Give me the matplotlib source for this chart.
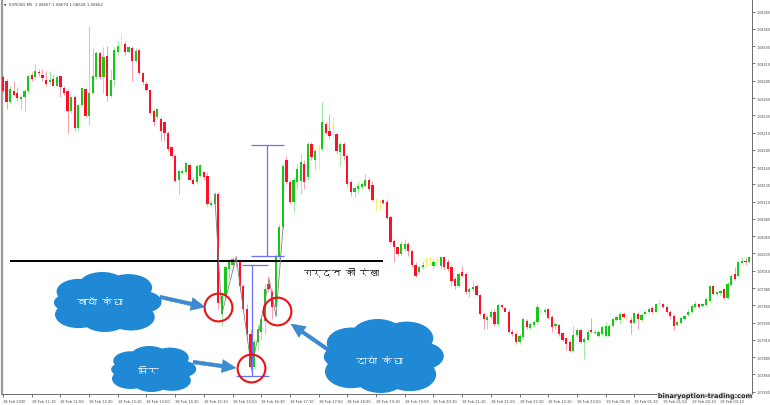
import numpy as np
import matplotlib
matplotlib.use("Agg")
import matplotlib.pyplot as plt
from matplotlib import font_manager, patheffects
from matplotlib.ft2font import FT2Font
from matplotlib.patches import Ellipse, FancyArrow

# EURUSD M5, 18-19 Feb 2020
opens = [
    1.08290, 1.08284, 1.08254, 1.08270, 1.08268, 1.08258, 1.08261, 1.08270, 1.08293, 1.08290,
    1.08297, 1.08294, 1.08286, 1.08283, 1.08287, 1.08278, 1.08292, 1.08274, 1.08270, 1.08241,
    1.08261, 1.08216, 1.08250, 1.08273, 1.08234, 1.08267, 1.08290, 1.08325, 1.08290, 1.08321,
    1.08263, 1.08286, 1.08326, 1.08339, 1.08338, 1.08326, 1.08332, 1.08313, 1.08329, 1.08296,
    1.08280, 1.08271, 1.08241, 1.08232, 1.08229, 1.08225, 1.08210, 1.08189, 1.08176, 1.08141,
    1.08151, 1.08153, 1.08163, 1.08142, 1.08138, 1.08147, 1.08153, 1.08147, 1.08105, 1.08106,
    1.08121, 1.07947, 1.07973, 1.08012, 1.08018, 1.08027, 1.08022, 1.07988, 1.07954, 1.07918,
    1.07871, 1.07907, 1.07921, 1.07937, 1.07991, 1.07979, 1.07957, 1.08031, 1.08073, 1.08171,
    1.08138, 1.08109, 1.08138, 1.08140, 1.08164, 1.08146, 1.08193, 1.08171, 1.08186, 1.08186,
    1.08222, 1.08212, 1.08218, 1.08208, 1.08182, 1.08193, 1.08176, 1.08138, 1.08124, 1.08128,
    1.08131, 1.08132, 1.08142, 1.08134, 1.08112, 1.08109, 1.08112, 1.08109, 1.08088, 1.08053,
    1.08044, 1.08034, 1.08041, 1.08048, 1.08038, 1.08019, 1.08008, 1.08015, 1.08024, 1.08027,
    1.08017, 1.08024, 1.08017, 1.08030, 1.08022, 1.08015, 1.07998, 1.07988, 1.08008, 1.08005,
    1.07979, 1.07983, 1.07988, 1.07975, 1.07948, 1.07938, 1.07943, 1.07951, 1.07933, 1.07960,
    1.07956, 1.07951, 1.07922, 1.07918, 1.07907, 1.07914, 1.07937, 1.07927, 1.07931, 1.07936,
    1.07951, 1.07950, 1.07954, 1.07943, 1.07930, 1.07931, 1.07920, 1.07912, 1.07907, 1.07894,
    1.07917, 1.07924, 1.07907, 1.07910, 1.07924, 1.07920, 1.07915, 1.07918, 1.07915, 1.07915,
    1.07930, 1.07939, 1.07939, 1.07947, 1.07940, 1.07938, 1.07935, 1.07947, 1.07939, 1.07947,
    1.07950, 1.07956, 1.07951, 1.07962, 1.07962, 1.07957, 1.07950, 1.07944, 1.07931, 1.07934,
    1.07940, 1.07946, 1.07950, 1.07957, 1.07962, 1.07959, 1.07960, 1.07966, 1.07988, 1.07976,
    1.07978, 1.07983, 1.07970, 1.07989, 1.08005, 1.08002, 1.08021, 1.08024, 1.08022,
]
highs = [
    1.08294, 1.08287, 1.08277, 1.08284, 1.08276, 1.08265, 1.08273, 1.08293, 1.08297, 1.08309,
    1.08302, 1.08302, 1.08299, 1.08299, 1.08294, 1.08292, 1.08294, 1.08277, 1.08273, 1.08263,
    1.08264, 1.08251, 1.08276, 1.08274, 1.08364, 1.08332, 1.08328, 1.08328, 1.08334, 1.08335,
    1.08302, 1.08334, 1.08342, 1.08354, 1.08342, 1.08335, 1.08335, 1.08332, 1.08331, 1.08297,
    1.08284, 1.08273, 1.08244, 1.08246, 1.08232, 1.08227, 1.08212, 1.08190, 1.08179, 1.08157,
    1.08157, 1.08167, 1.08164, 1.08145, 1.08164, 1.08164, 1.08154, 1.08153, 1.08111, 1.08124,
    1.08124, 1.07979, 1.08019, 1.08027, 1.08030, 1.08031, 1.08027, 1.07991, 1.07962, 1.07925,
    1.07911, 1.07933, 1.07943, 1.07991, 1.08002, 1.07983, 1.08034, 1.08078, 1.08164, 1.08176,
    1.08142, 1.08145, 1.08164, 1.08179, 1.08171, 1.08196, 1.08196, 1.08186, 1.08193, 1.08254,
    1.08226, 1.08237, 1.08232, 1.08210, 1.08196, 1.08196, 1.08179, 1.08142, 1.08132, 1.08138,
    1.08138, 1.08150, 1.08145, 1.08140, 1.08115, 1.08114, 1.08114, 1.08114, 1.08090, 1.08056,
    1.08045, 1.08053, 1.08056, 1.08051, 1.08041, 1.08022, 1.08018, 1.08024, 1.08030, 1.08030,
    1.08027, 1.08030, 1.08032, 1.08032, 1.08027, 1.08019, 1.08001, 1.08008, 1.08017, 1.08008,
    1.07986, 1.07995, 1.07991, 1.07976, 1.07951, 1.07946, 1.07954, 1.07954, 1.07964, 1.07962,
    1.07957, 1.07954, 1.07925, 1.07921, 1.07918, 1.07943, 1.07940, 1.07936, 1.07938, 1.07962,
    1.07954, 1.07956, 1.07956, 1.07946, 1.07936, 1.07933, 1.07922, 1.07914, 1.07910, 1.07930,
    1.07928, 1.07927, 1.07914, 1.07925, 1.07941, 1.07925, 1.07924, 1.07931, 1.07936, 1.07933,
    1.07943, 1.07946, 1.07950, 1.07950, 1.07943, 1.07943, 1.07951, 1.07950, 1.07949, 1.07953,
    1.07957, 1.07959, 1.07964, 1.07969, 1.07963, 1.07960, 1.07953, 1.07947, 1.07937, 1.07943,
    1.07946, 1.07954, 1.07962, 1.07966, 1.07963, 1.07963, 1.07972, 1.07989, 1.07989, 1.07980,
    1.07982, 1.07985, 1.07994, 1.08005, 1.08015, 1.08024, 1.08030, 1.08030, 1.08031,
]
lows = [
    1.08268, 1.08244, 1.08251, 1.08263, 1.08255, 1.08244, 1.08241, 1.08268, 1.08284, 1.08287,
    1.08292, 1.08284, 1.08277, 1.08280, 1.08277, 1.08277, 1.08261, 1.08265, 1.08210, 1.08239,
    1.08213, 1.08213, 1.08248, 1.08232, 1.08221, 1.08266, 1.08287, 1.08287, 1.08268, 1.08255,
    1.08261, 1.08277, 1.08323, 1.08336, 1.08323, 1.08325, 1.08284, 1.08312, 1.08294, 1.08281,
    1.08270, 1.08237, 1.08219, 1.08229, 1.08198, 1.08198, 1.08183, 1.08174, 1.08138, 1.08121,
    1.08150, 1.08150, 1.08141, 1.08134, 1.08135, 1.08145, 1.08142, 1.08103, 1.08102, 1.08103,
    1.07954, 1.07930, 1.07969, 1.07998, 1.08012, 1.08015, 1.07979, 1.07951, 1.07911, 1.07865,
    1.07868, 1.07896, 1.07911, 1.07918, 1.07979, 1.07940, 1.07944, 1.08027, 1.08070, 1.08135,
    1.08106, 1.08095, 1.08128, 1.08121, 1.08128, 1.08142, 1.08171, 1.08157, 1.08157, 1.08183,
    1.08208, 1.08200, 1.08200, 1.08179, 1.08161, 1.08171, 1.08131, 1.08118, 1.08117, 1.08121,
    1.08128, 1.08131, 1.08125, 1.08111, 1.08096, 1.08099, 1.08106, 1.08085, 1.08050, 1.08023,
    1.08031, 1.08031, 1.08038, 1.08031, 1.08016, 1.08001, 1.08005, 1.08012, 1.08015, 1.08018,
    1.08012, 1.08015, 1.08012, 1.08012, 1.08009, 1.07988, 1.07983, 1.07986, 1.08001, 1.07976,
    1.07972, 1.07980, 1.07973, 1.07946, 1.07925, 1.07925, 1.07940, 1.07930, 1.07930, 1.07954,
    1.07950, 1.07920, 1.07915, 1.07904, 1.07904, 1.07911, 1.07925, 1.07924, 1.07928, 1.07933,
    1.07947, 1.07947, 1.07940, 1.07922, 1.07925, 1.07915, 1.07908, 1.07895, 1.07892, 1.07892,
    1.07914, 1.07905, 1.07882, 1.07908, 1.07920, 1.07918, 1.07914, 1.07915, 1.07914, 1.07914,
    1.07928, 1.07937, 1.07933, 1.07941, 1.07936, 1.07918, 1.07934, 1.07925, 1.07937, 1.07946,
    1.07949, 1.07949, 1.07950, 1.07959, 1.07956, 1.07949, 1.07940, 1.07924, 1.07930, 1.07933,
    1.07938, 1.07944, 1.07949, 1.07956, 1.07956, 1.07957, 1.07959, 1.07965, 1.07975, 1.07973,
    1.07975, 1.07969, 1.07969, 1.07988, 1.07996, 1.08001, 1.08020, 1.08018, 1.08021,
]
closes = [
    1.08270, 1.08254, 1.08273, 1.08265, 1.08260, 1.08261, 1.08270, 1.08292, 1.08287, 1.08299,
    1.08296, 1.08289, 1.08281, 1.08286, 1.08278, 1.08290, 1.08276, 1.08268, 1.08241, 1.08261,
    1.08216, 1.08250, 1.08274, 1.08234, 1.08268, 1.08292, 1.08325, 1.08290, 1.08319, 1.08263,
    1.08286, 1.08329, 1.08335, 1.08339, 1.08326, 1.08334, 1.08313, 1.08328, 1.08296, 1.08283,
    1.08271, 1.08239, 1.08226, 1.08244, 1.08212, 1.08209, 1.08186, 1.08176, 1.08140, 1.08154,
    1.08154, 1.08166, 1.08142, 1.08135, 1.08161, 1.08163, 1.08145, 1.08106, 1.08108, 1.08121,
    1.07964, 1.07973, 1.08015, 1.08024, 1.08027, 1.08022, 1.07988, 1.07954, 1.07918, 1.07871,
    1.07907, 1.07925, 1.07940, 1.07983, 1.07983, 1.07957, 1.08031, 1.08073, 1.08161, 1.08138,
    1.08109, 1.08142, 1.08157, 1.08167, 1.08138, 1.08193, 1.08174, 1.08183, 1.08186, 1.08225,
    1.08210, 1.08205, 1.08218, 1.08183, 1.08193, 1.08176, 1.08135, 1.08124, 1.08130, 1.08132,
    1.08135, 1.08142, 1.08128, 1.08112, 1.08112, 1.08109, 1.08108, 1.08086, 1.08051, 1.08044,
    1.08034, 1.08048, 1.08048, 1.08038, 1.08019, 1.08002, 1.08015, 1.08019, 1.08024, 1.08027,
    1.08022, 1.08024, 1.08030, 1.08015, 1.08012, 1.07995, 1.07988, 1.08005, 1.08002, 1.07979,
    1.07983, 1.07986, 1.07975, 1.07947, 1.07940, 1.07943, 1.07951, 1.07933, 1.07960, 1.07957,
    1.07951, 1.07921, 1.07918, 1.07907, 1.07915, 1.07940, 1.07928, 1.07933, 1.07936, 1.07957,
    1.07951, 1.07953, 1.07941, 1.07928, 1.07933, 1.07918, 1.07910, 1.07904, 1.07894, 1.07917,
    1.07924, 1.07907, 1.07911, 1.07922, 1.07921, 1.07922, 1.07921, 1.07928, 1.07930, 1.07930,
    1.07940, 1.07943, 1.07947, 1.07943, 1.07940, 1.07935, 1.07949, 1.07940, 1.07946, 1.07950,
    1.07954, 1.07950, 1.07962, 1.07962, 1.07957, 1.07951, 1.07944, 1.07930, 1.07936, 1.07941,
    1.07944, 1.07951, 1.07959, 1.07962, 1.07957, 1.07962, 1.07969, 1.07988, 1.07976, 1.07979,
    1.07980, 1.07970, 1.07991, 1.08002, 1.07998, 1.08022, 1.08024, 1.08022, 1.08030,
]

price_ticks = [
    1.08385, 1.08360, 1.08335, 1.08310, 1.08285, 1.08260, 1.08235, 1.08210, 1.08185, 1.08160,
    1.08135, 1.08110, 1.08085, 1.08060, 1.08035, 1.08010, 1.07985, 1.07960, 1.07935, 1.07910,
    1.07885, 1.07860, 1.07835,
]
time_tick_bars = [0, 8, 16, 24, 32, 40, 48, 56, 64, 72, 80, 88, 96, 104, 112, 120, 128,
                  136, 144, 152, 160, 168, 176, 184, 192, 200]
time_labels = [
    "18 Feb 2020", "18 Feb 11:10", "18 Feb 11:50", "18 Feb 12:30", "18 Feb 13:10",
    "18 Feb 13:50", "18 Feb 14:30", "18 Feb 15:10", "18 Feb 15:50", "18 Feb 16:30",
    "18 Feb 17:10", "18 Feb 17:50", "18 Feb 18:30", "18 Feb 19:10", "18 Feb 19:50",
    "18 Feb 20:30", "18 Feb 21:10", "18 Feb 21:50", "18 Feb 22:30", "18 Feb 23:10",
    "18 Feb 23:50", "19 Feb 00:30", "19 Feb 01:10", "19 Feb 01:50", "19 Feb 02:30",
    "19 Feb 03:10",
]

# head & shoulders markup
neckline = 1.08024
neck_bars = [2, 106]
pattern_bars = [60, 69.2, 76.4]          # left shoulder, head, right shoulder
pattern_prices = [1.07957, 1.07869, 1.07952]
zigzag_bars = [59, 61, 65, 69.3, 74.2, 76.1, 78.1]
zigzag_prices = [1.08121, 1.07947, 1.08030, 1.07868, 1.07998, 1.07944, 1.08075]
depth_bar, depth_top, depth_bottom = 69.4, 1.08019, 1.07858
target_bar, target_top, target_bottom = 73.7, 1.08192, 1.08031

header = "EURUSD,M5  1.08667 1.08674 1.08628 1.08662"
neck_label = "गर्दन की रेखा"
cloud_labels = ["बायाँ कंधा", "सिर", "दायां कंधा"]


def _devanagari_family() -> str:
    for entry in font_manager.fontManager.ttflist:
        try:
            cmap = FT2Font(entry.fname).get_charmap()
        except Exception:
            continue
        if 0x0917 in cmap and 0x0930 in cmap:
            return entry.name
    return "DejaVu Sans"


HINDI = [_devanagari_family(), "DejaVu Sans"]

W, H = 770, 406
fig = plt.figure(figsize=(W / 100, H / 100), dpi=100)
fig.patch.set_facecolor("white")

# main chart area: x 2..752 px, y 1..395 px
ax = fig.add_axes([2 / W, (H - 395) / H, 750 / W, 394 / H])
ax.set_facecolor("white")

o = np.array(opens)
h = np.array(highs)
l = np.array(lows)
c = np.array(closes)
x = np.arange(len(c))

body_col = np.where(c > o, "#16c916", np.where(c < o, "#ff1028", "#f2f23a"))
wick_col = np.where(c > o, "#9fe89f", np.where(c < o, "#f5a3b2", "#f0ee7a"))
body_bottom = np.minimum(o, c)
body_height = np.maximum(np.abs(c - o), 1.3e-5)

ax.vlines(x, l, h, colors=wick_col, linewidth=0.75, zorder=2)
ax.bar(x, body_height, bottom=body_bottom, width=0.62, color=body_col,
       linewidth=0, zorder=3)

ax.set_xlim(-0.28, 208.8)
ax.set_ylim(1.078316, 1.084019)

# neckline
ax.hlines(neckline, neck_bars[0], neck_bars[1], color="black", linewidth=1.4, zorder=4)

# zigzag indicator
ax.plot(zigzag_bars, zigzag_prices, color="#808080", linewidth=0.6, zorder=4)

# measurement lines
blue = "#6f6fff"
lw_b = 0.9
ax.vlines(depth_bar, depth_bottom, depth_top, color=blue, linewidth=lw_b, zorder=4)
ax.hlines(depth_top, 66.5, 74.0, color=blue, linewidth=lw_b, zorder=4)
ax.hlines(depth_bottom, 65.0, 74.1, color=blue, linewidth=lw_b, zorder=4)
ax.vlines(target_bar, target_bottom, target_top, color=blue, linewidth=lw_b, zorder=4)
ax.hlines(target_top, 69.0, 78.3, color=blue, linewidth=lw_b, zorder=4)
ax.hlines(target_bottom, 69.0, 78.3, color=blue, linewidth=lw_b, zorder=4)

# red circles
ax.plot(pattern_bars, pattern_prices, linestyle="none", marker="o", markersize=20,
        markerfacecolor="none", markeredgecolor="#ee1111", markeredgewidth=1.5, zorder=5)

# axes styling (MT4 look)
ax.spines["top"].set_visible(False)
ax.spines["left"].set_color("#9a9a9a")
ax.spines["left"].set_linewidth(1.6)
ax.spines["right"].set_color("#555555")
ax.spines["right"].set_linewidth(0.6)
ax.spines["bottom"].set_color("#555555")
ax.spines["bottom"].set_linewidth(0.6)

ax.yaxis.tick_right()
ax.set_yticks(price_ticks)
ax.set_yticklabels([f"{p:.5f}" for p in price_ticks])
ax.tick_params(axis="y", length=2, width=0.5, pad=1.5, labelsize=2.4,
               colors="#444444")
ax.set_xticks(time_tick_bars)
ax.set_xticklabels(time_labels)
for lbl in ax.get_xticklabels():
    lbl.set_horizontalalignment("left")
ax.tick_params(axis="x", length=2, width=0.5, pad=1.5, labelsize=2.6,
               colors="#444444")

# overlay in pixel coordinates for clouds, arrows and captions
ov = fig.add_axes([0, 0, 1, 1], facecolor="none")
ov.set_xlim(0, W)
ov.set_ylim(H, 0)
ov.axis("off")

cloud_blue = "#1f89d6"
bumps = [(0.0, 0.0, 0.72), (-0.55, -0.35, 0.42), (-0.1, -0.55, 0.45), (0.4, -0.48, 0.45),
         (0.66, 0.0, 0.37), (0.45, 0.5, 0.45), (-0.05, 0.55, 0.45), (-0.55, 0.42, 0.45),
         (-0.72, 0.02, 0.3)]


def cloud(cx, cy, sx, sy):
    for dx, dy, r in bumps:
        ov.add_patch(Ellipse((cx + dx * sx, cy + dy * sy), 2 * r * sx, 2 * r * sy,
                             facecolor=cloud_blue, edgecolor="none", zorder=6))


clouds = [(107.5, 303, 52.5, 30), (153.5, 370, 41.5, 23), (383.5, 357, 58.5, 37)]
text_pos = [(99, 303), (148, 372), (379, 362)]
for (cx, cy, sx, sy), (tx, ty), label in zip(clouds, text_pos, cloud_labels):
    cloud(cx, cy, sx, sy)
    ov.text(tx, ty, label, color="white", fontsize=7.5, family=HINDI,
            ha="center", va="center", zorder=7)

arrow_blue = "#3a8bd2"
arrows = [((160, 298), (205, 308)), ((193, 363), (236, 369)), ((330, 352), (291, 325))]
for (x0, y0), (x1, y1) in arrows:
    ov.add_patch(FancyArrow(x0, y0, x1 - x0, y1 - y0, width=3.6, head_width=13,
                            head_length=14, length_includes_head=True,
                            facecolor=arrow_blue, edgecolor="#2f78b8", linewidth=0.3,
                            zorder=6))

ov.text(341, 272, neck_label, color="black", fontsize=6.8, family=HINDI,
        ha="center", va="center", zorder=7)

ov.text(4, 5.5, "▼", fontsize=2.2, color="#333333", ha="left", va="center")
ov.text(9, 5.5, header, fontsize=2.8, color="#444444", ha="left", va="center")

wm = ov.text(705, 397, "binaryoption-trading.com", fontsize=4.7, weight="bold",
             color="#262626", ha="center", va="center", zorder=8)
wm.set_path_effects([patheffects.withStroke(linewidth=1.5, foreground="#e6e6e6")])

fig.savefig("out.png", dpi=100, facecolor="white")
